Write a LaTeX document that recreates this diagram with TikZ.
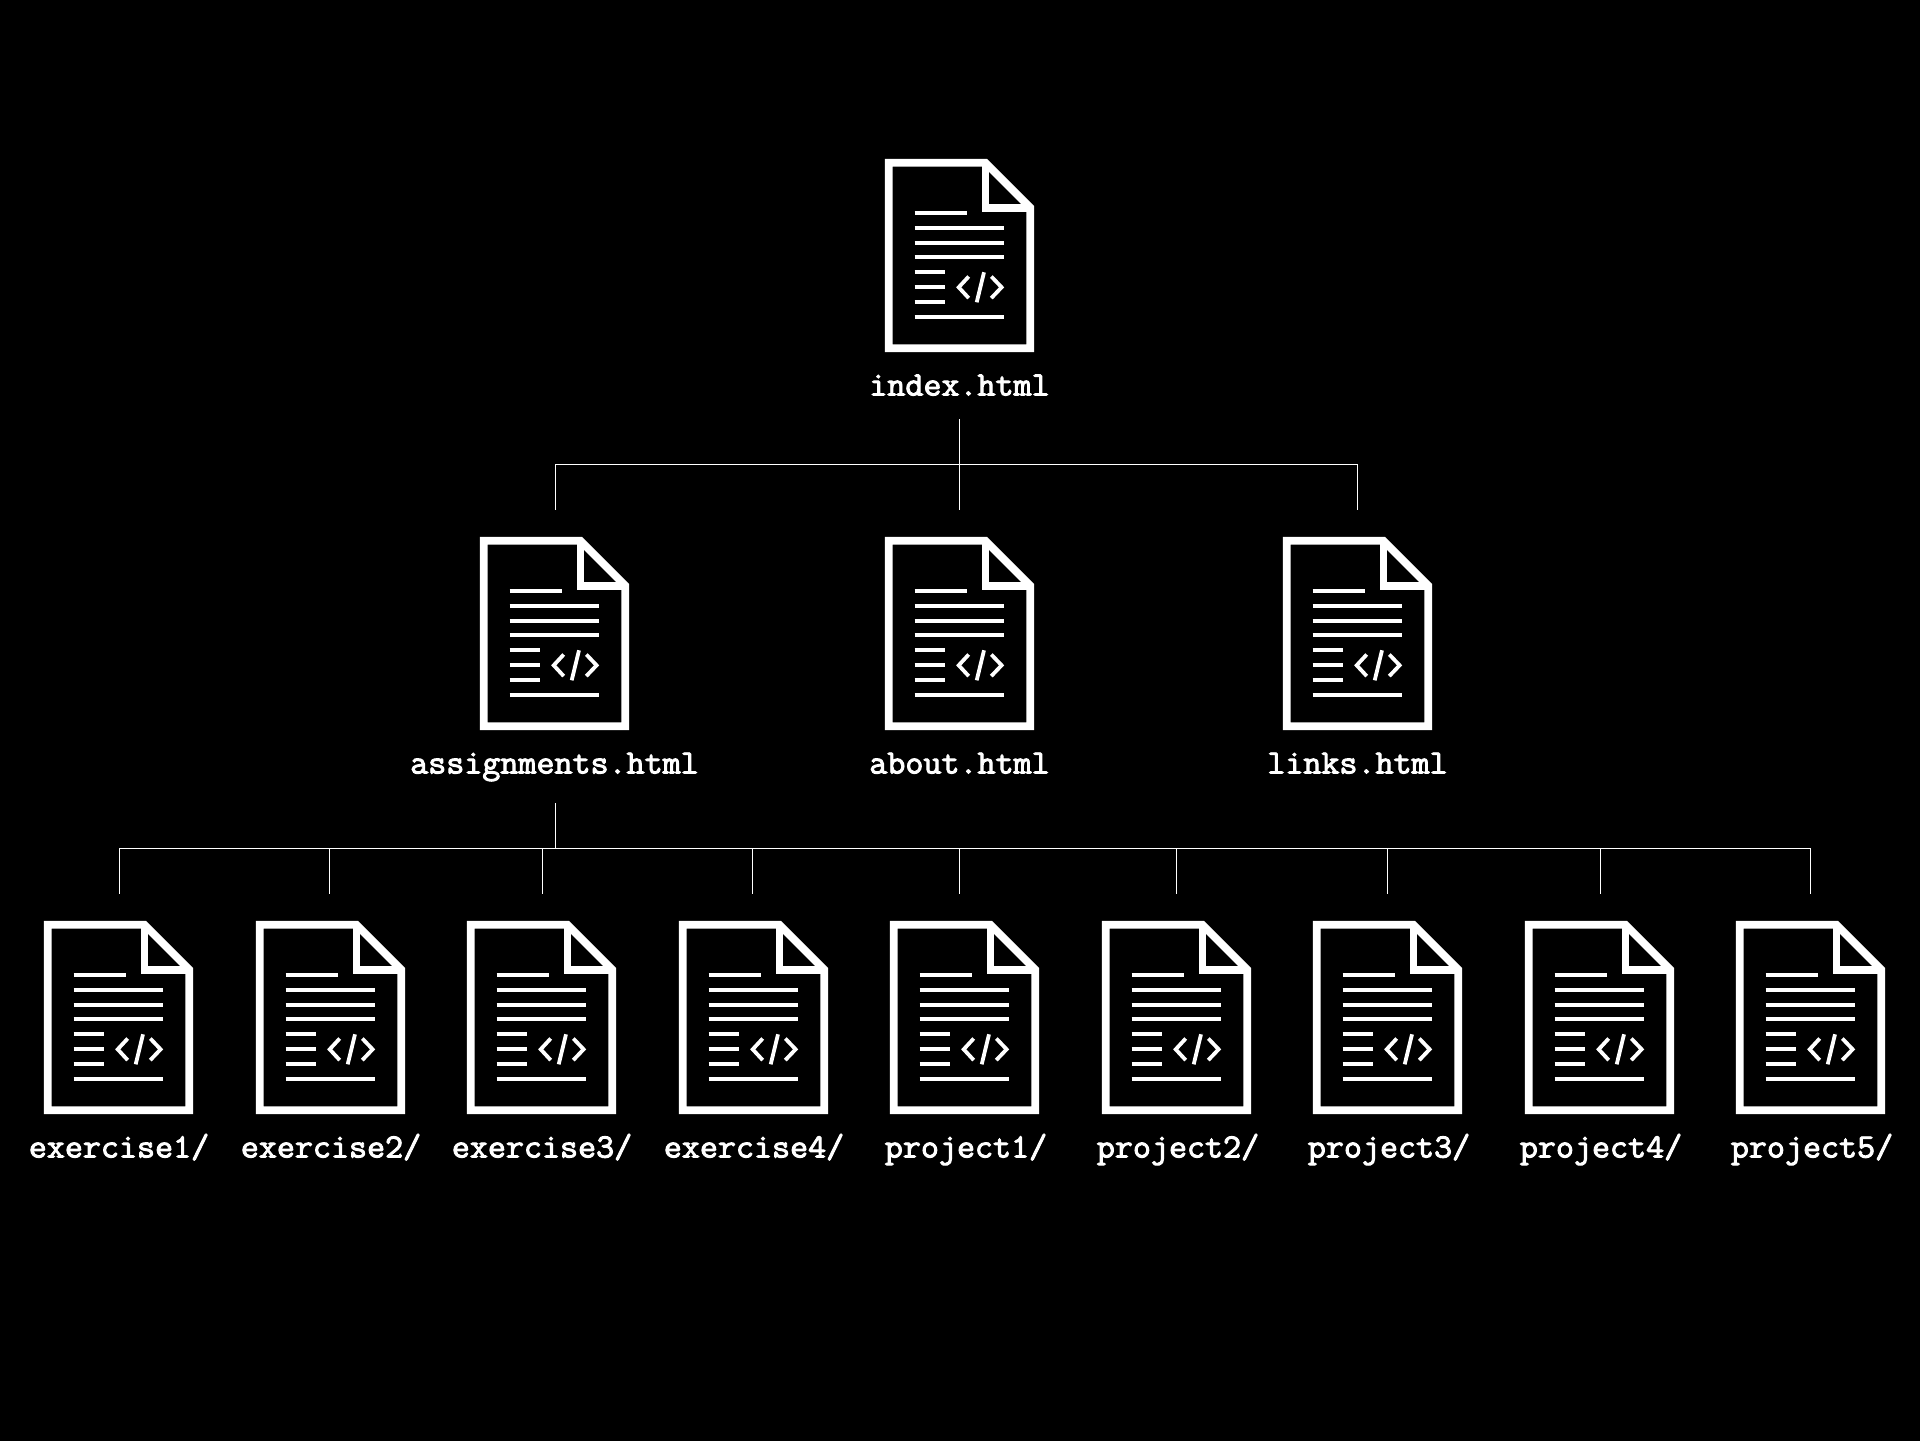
\documentclass[tikz,border=0pt]{standalone}
\usepackage{tikz}
\usepackage{fontspec}
\setmonofont[FakeBold=2.8, FakeStretch=1.03]{Latin Modern Mono}

\tikzset{
	link/.style = {draw=white, line width=0.7pt},
	filename/.style = {text=white, anchor=base, inner sep=0pt, font=\ttfamily\fontsize{17}{17}\selectfont},
	pics/htmlfile/.style = {code = {
		\draw[white, line width=3.9pt, miter limit=10] (3.7,3.7) -- (100.4,3.7) -- (145.3,48.6) -- (145.3,189.3) -- (3.7,189.3) -- cycle;
		\draw[white, line width=3.9pt, miter limit=10] (100.4,3.7) -- (100.4,48.6) -- (145.3,48.6);
		\draw[white, line width=2pt] (29.7,53.7) -- (82,53.7);
		\draw[white, line width=2pt] (29.7,68.7) -- (119.3,68.7);
		\draw[white, line width=2pt] (29.7,83.7) -- (119.3,83.7);
		\draw[white, line width=2pt] (29.7,98.4) -- (119.3,98.4);
		\draw[white, line width=2pt] (29.7,113.3) -- (59.7,113.3);
		\draw[white, line width=2pt] (29.7,128.3) -- (59.7,128.3);
		\draw[white, line width=2pt] (29.7,143.1) -- (59.7,143.1);
		\draw[white, line width=2pt] (29.7,158) -- (119.3,158);
		\draw[white, line width=1.9pt] (83.7,117.5) -- (73.7,128.3) -- (83.7,139.1);
		\draw[white, line width=1.9pt] (99,113.3) -- (91.7,143.3);
		\draw[white, line width=1.9pt] (106.3,117.5) -- (116.6,128.3) -- (106.3,139.1);
	}}
}

\begin{document}
\begin{tikzpicture}[x=0.5pt, y=-0.5pt]
	\fill[black, overlay] (-10,-10) rectangle (1930,1450);
	\useasboundingbox (0,0) rectangle (1920,1440);

	\pic (index) at (885,159) {htmlfile};
	\node[filename] (indexname) at (959.5,395.5) {index.html};

	\pic (assignments) at (480,537) {htmlfile};
	\pic (about) at (885,537) {htmlfile};
	\pic (links) at (1283,537) {htmlfile};
	\node[filename] (assignmentsname) at (554.5,773.5) {assignments.html};
	\node[filename] (aboutname) at (959.5,773.5) {about.html};
	\node[filename] (linksname) at (1357.5,773.5) {links.html};

	\pic (exercise1) at (44,921) {htmlfile};
	\pic (exercise2) at (256,921) {htmlfile};
	\pic (exercise3) at (467,921) {htmlfile};
	\pic (exercise4) at (679,921) {htmlfile};
	\pic (project1) at (890,921) {htmlfile};
	\pic (project2) at (1102,921) {htmlfile};
	\pic (project3) at (1313,921) {htmlfile};
	\pic (project4) at (1525,921) {htmlfile};
	\pic (project5) at (1736,921) {htmlfile};
	\node[filename] (exercise1name) at (119,1157.5) {exercise1/};
	\node[filename] (exercise2name) at (331,1157.5) {exercise2/};
	\node[filename] (exercise3name) at (542,1157.5) {exercise3/};
	\node[filename] (exercise4name) at (754,1157.5) {exercise4/};
	\node[filename] (project1name) at (966,1157.5) {project1/};
	\node[filename] (project2name) at (1178,1157.5) {project2/};
	\node[filename] (project3name) at (1389,1157.5) {project3/};
	\node[filename] (project4name) at (1601,1157.5) {project4/};
	\node[filename] (project5name) at (1812,1157.5) {project5/};

	\coordinate (indexout) at (959.3,419);
	\coordinate (assignmentsin) at (555.7,509.7);
	\coordinate (aboutin) at (959.3,509.7);
	\coordinate (linksin) at (1357.5,509.7);
	\coordinate (topbus) at (959.3,464.3);
	\draw[link] (indexout) -- (aboutin);
	\draw[link] (assignmentsin) |- (topbus);
	\draw[link] (linksin) |- (topbus);

	\coordinate (assignmentsout) at (555.7,803);
	\coordinate (lowbus) at (555.7,848.3);
	\coordinate (exercise1in) at (119.7,893.7);
	\coordinate (exercise2in) at (329.3,893.7);
	\coordinate (exercise3in) at (542.5,893.7);
	\coordinate (exercise4in) at (752.5,893.7);
	\coordinate (project1in) at (959.3,893.7);
	\coordinate (project2in) at (1176.3,893.7);
	\coordinate (project3in) at (1387.3,893.7);
	\coordinate (project4in) at (1600.3,893.7);
	\coordinate (project5in) at (1810.3,893.7);
	\draw[link] (assignmentsout) -- (lowbus);
	\draw[link] (exercise1in) |- (lowbus);
	\draw[link] (exercise2in) |- (lowbus);
	\draw[link] (exercise3in) |- (lowbus);
	\draw[link] (exercise4in) |- (lowbus);
	\draw[link] (project1in) |- (lowbus);
	\draw[link] (project2in) |- (lowbus);
	\draw[link] (project3in) |- (lowbus);
	\draw[link] (project4in) |- (lowbus);
	\draw[link] (project5in) |- (lowbus);
\end{tikzpicture}
\end{document}
